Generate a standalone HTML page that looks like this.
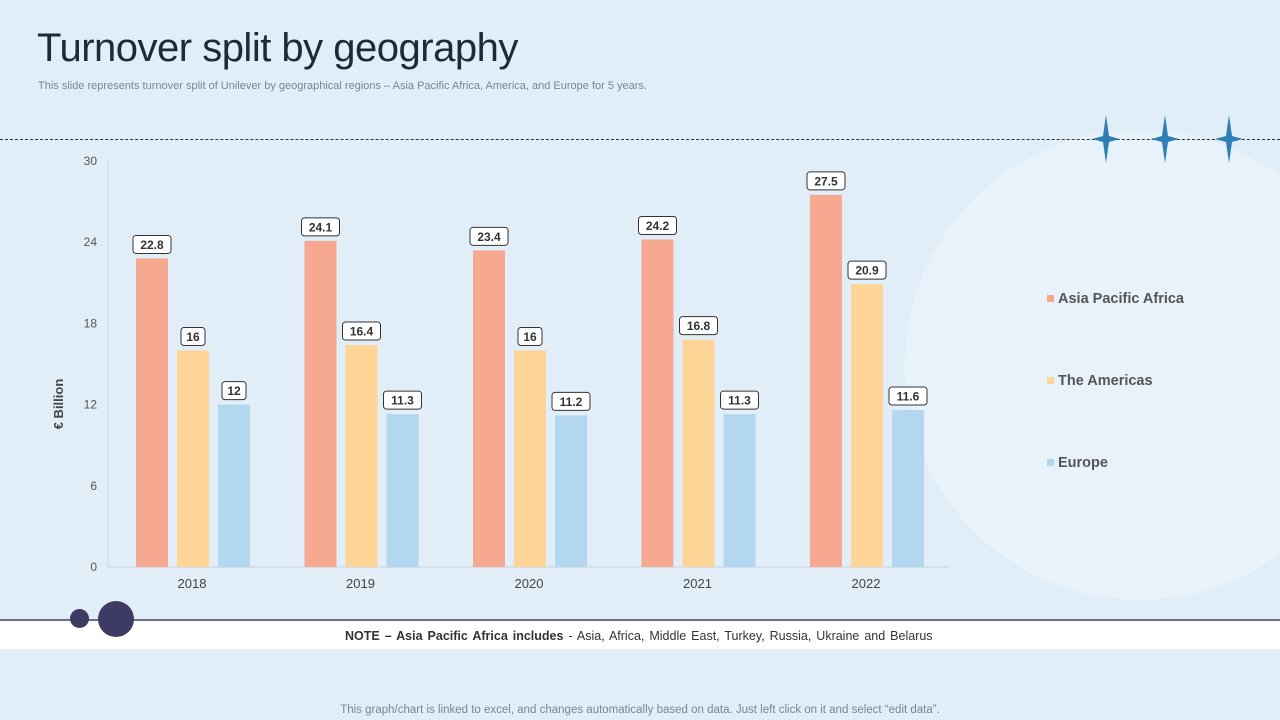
<!DOCTYPE html>
<html><head><meta charset="utf-8"><style>
body{margin:0;width:1280px;height:720px;overflow:hidden;background:#e1eef8;font-family:"Liberation Sans",sans-serif;position:relative}
.abs{position:absolute}
</style></head><body>
<div class="abs" style="left:0;top:0;width:1280px;height:720px;overflow:hidden">
<div class="abs" style="left:905px;top:130px;width:470px;height:470px;border-radius:50%;background:#e8f2fa"></div>
</div>
<div class="abs" style="left:37px;top:26px;font-size:40px;color:#1e2a38;font-weight:300;letter-spacing:-0.5px">Turnover split by geography</div>
<div class="abs" style="left:38px;top:80px;font-size:11px;color:#7a8590">This slide represents turnover split of Unilever by geographical regions – Asia Pacific Africa, America, and Europe for 5 years.</div>
<div class="abs" style="left:0;top:139px;width:1280px;border-top:1px dashed #333"></div>
<svg class="abs" style="left:0;top:0" width="1280" height="720">
<g id="stars"></g><g id="chart"></g>
</svg>
<div class="abs" style="left:0;top:619px;width:1280px;height:2px;background:#6a7280"></div>
<div class="abs" style="left:0;top:621px;width:1280px;height:28px;background:#fff"></div>
<div class="abs" style="left:70px;top:609px;width:19px;height:19px;border-radius:50%;background:#3d3b63"></div>
<div class="abs" style="left:98px;top:601px;width:36px;height:36px;border-radius:50%;background:#3d3b63"></div>
<div class="abs" style="left:345px;top:629px;font-size:12.5px;color:#333;word-spacing:1.5px"><b>NOTE – Asia Pacific Africa includes</b> - Asia, Africa, Middle East, Turkey, Russia, Ukraine and Belarus</div>
<div class="abs" style="left:0;width:1280px;text-align:center;top:704px;font-size:11.5px;color:#7a8590">This graph/chart is linked to excel, and changes automatically based on data. Just left click on it and select “edit data”.</div>
<script>
const categories=["2018","2019","2020","2021","2022"];
const seriesNames=["Asia Pacific Africa","The Americas","Europe"];
const apa=[22.8,24.1,23.4,24.2,27.5];
const americas=[16,16.4,16,16.8,20.9];
const europe=[12,11.3,11.2,11.3,11.6];
const yTicks=[0,6,12,18,24,30];
const colors=["#f6a891","#fed597","#b2d7ef"];
const NS="http://www.w3.org/2000/svg";
const g=document.getElementById('chart');
const y0=567,yTop=161,ymax=30;
const y=v=>y0-(v/ymax)*(y0-yTop);
const xc=i=>192+i*168.5;
function mk(t,a,p){const e=document.createElementNS(NS,t);for(const k in a)e.setAttribute(k,a[k]);(p||g).appendChild(e);return e;}
let ax=mk('line',{x1:108,x2:108,y1:161,y2:567,stroke:'#d0d8e0'});


let bx=mk('line',{x1:108,x2:950,y1:567,y2:567,stroke:'#c8d0d8'});


yTicks.forEach(v=>{const t=mk('text',{x:97,y:y(v)+4,'text-anchor':'end','font-size':12,fill:'#555'});t.textContent=v;

});
const yt=mk('text',{x:63,y:404,'text-anchor':'middle','font-size':13,'font-weight':'bold',fill:'#444',transform:'rotate(-90 63 404)'});yt.textContent='€ Billion';


const series=[apa,americas,europe];const offs=[-40,1,42];
categories.forEach((c,i)=>{
 const t=mk('text',{x:xc(i),y:588,'text-anchor':'middle','font-size':13,fill:'#444'});t.textContent=c;
 
 
 series.forEach((s,j)=>{const cx=xc(i)+offs[j];const v=s[i];
  const r=mk('rect',{x:cx-16,y:y(v),width:32,height:y0-y(v),fill:colors[j]});
  
  
  const lbl=String(v);const w=lbl.length*7+10;
  const b=mk('rect',{x:cx-w/2,y:y(v)-23,width:w,height:18,rx:3,fill:'#fff',stroke:'#333','stroke-width':1});
  
  
  const tt=mk('text',{x:cx,y:y(v)-9.5,'text-anchor':'middle','font-size':12,'font-weight':'bold',fill:'#333'});tt.textContent=lbl;
  
  
 });
});
seriesNames.forEach((n,j)=>{const yy=299+j*82;
 const r=mk('rect',{x:1047,y:yy-4,width:7,height:7,fill:colors[j]});
 
 
 const t=mk('text',{x:1058,y:yy+4,'font-size':14.5,'font-weight':'bold',fill:'#555'});t.textContent=n;
 
 
});
const sg=document.getElementById('stars');
[1106,1165,1229].forEach(x=>{const p=mk('path',{d:`M${x} 115 L${x+3} 136 L${x+14} 139 L${x+3} 142 L${x} 163 L${x-3} 142 L${x-14} 139 L${x-3} 136 Z`,fill:'#2e7fb3'},sg);
 
 });
</script>
</body></html>
